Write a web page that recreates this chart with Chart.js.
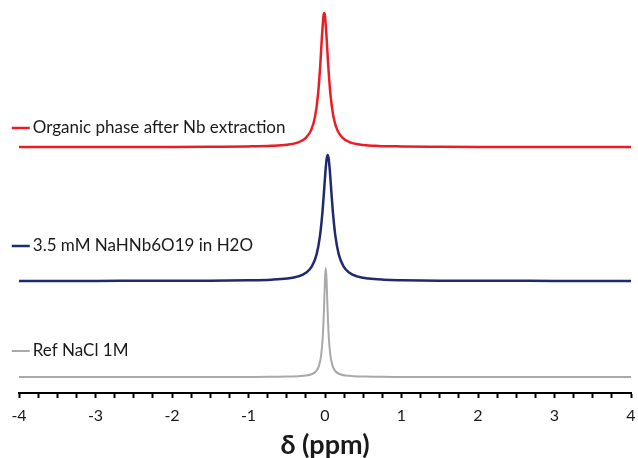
<!DOCTYPE html>
<html>
<head>
<meta charset="utf-8">
<script src="https://cdn.jsdelivr.net/npm/chart.js@4"></script>
<style>
  body { margin: 0; background: #fff; }
  #wrap { width: 638px; height: 458px; }
</style>
</head>
<body>
<div id="wrap"><canvas id="nmr" width="638" height="458"></canvas></div>
<script>
// spectra (arbitrary intensity, stacked as drawn)
const seriesNames = ['Organic phase after Nb extraction', '3.5 mM NaHNb6O19 in H2O', 'Ref NaCl 1M'];

const organicX = [-4, -3, -2, -1.5, -1, -0.7, -0.5, -0.35, -0.25, -0.18, -0.13, -0.09, -0.06, -0.04, -0.02, -0.01,
  0, 0.02, 0.04, 0.07, 0.11, 0.16, 0.23, 0.33, 0.5, 0.7, 1, 1.5, 2, 3, 4];
const organicY = [246.0, 246.0, 246.1, 246.3, 246.6, 247.2, 248.3, 250.7, 255.2, 263.1, 276.4, 299.3, 330.2, 356.5, 376.9, 380,
  376.9, 356.5, 330.2, 299.3, 276.4, 263.1, 255.2, 250.7, 248.1, 247.1, 246.6, 246.3, 246.1, 246.0, 246.0];

const nbX = [-4, -3, -2, -1.5, -1, -0.7, -0.5, -0.35, -0.25, -0.17, -0.11, -0.065, -0.035, -0.015, 0.005, 0.02, 0.035,
  0.05, 0.065, 0.085, 0.105, 0.135, 0.18, 0.24, 0.32, 0.42, 0.57, 0.77, 1, 1.5, 2, 3, 4];
const nbY = [112.0, 112.1, 112.2, 112.3, 112.7, 113.3, 114.4, 116.6, 120.2, 126.9, 138.6, 157.4, 179.3, 199.2, 220.6, 233.2, 238,
  233.2, 220.6, 199.2, 179.3, 157.4, 138.6, 126.9, 120.2, 116.6, 114.4, 113.3, 112.8, 112.3, 112.2, 112.1, 112.0];

const naclX = [-4, -3, -2, -1.5, -1, -0.7, -0.5, -0.35, -0.25, -0.17, -0.12, -0.08, -0.05, -0.03, -0.015, 0, 0.01,
  0.02, 0.035, 0.05, 0.07, 0.1, 0.14, 0.19, 0.27, 0.37, 0.52, 0.72, 1, 1.5, 2, 3, 4];
const naclY = [16.0, 16.0, 16.0, 16.0, 16.1, 16.2, 16.4, 16.8, 17.4, 19.0, 21.5, 26.9, 37.8, 55.2, 80.3, 114.1, 125,
  114.1, 80.3, 55.2, 37.8, 26.9, 21.5, 19.0, 17.4, 16.8, 16.4, 16.2, 16.1, 16.0, 16.0, 16.0, 16.0];

// where each label sits, in data units
const labelX = -3.82;
const labelY = [266, 148, 43];

const colors = ['#ec1c24', '#1f2a6e', '#a9a9a9'];
const widths = [2.5, 2.5, 2];

const FONT = 'Lato, "Open Sans", "DejaVu Sans", sans-serif';

function toPoints(xs, ys) {
  return xs.map((x, i) => ({ x: x, y: ys[i] }));
}

const seriesLabels = {
  id: 'seriesLabels',
  afterDatasetsDraw(chart) {
    const ctx = chart.ctx;
    const xs = chart.scales.x, ys = chart.scales.y;
    const tx = xs.getPixelForValue(labelX);
    ctx.save();
    ctx.font = '17px ' + FONT;
    ctx.textBaseline = 'middle';
    seriesNames.forEach((name, i) => {
      const py = ys.getPixelForValue(labelY[i]) + 1;
      ctx.strokeStyle = colors[i];
      ctx.lineWidth = widths[i];
      ctx.beginPath();
      ctx.moveTo(tx - 21, py);
      ctx.lineTo(tx - 3, py);
      ctx.stroke();
      ctx.fillStyle = '#1a1a1a';
      ctx.fillText(name, tx, py);
    });
    ctx.restore();
  }
};

const data = [toPoints(organicX, organicY), toPoints(nbX, nbY), toPoints(naclX, naclY)];

new Chart(document.getElementById('nmr'), {
  type: 'line',
  data: {
    datasets: data.map((pts, i) => ({
      label: seriesNames[i],
      data: pts,
      borderColor: colors[i],
      borderWidth: widths[i],
      pointRadius: 0,
      cubicInterpolationMode: 'monotone',
      fill: false,
    }))
  },
  options: {
    responsive: false,
    devicePixelRatio: 1,
    animation: false,
    layout: { padding: { left: 19, right: 7, top: 8, bottom: 0 } },
    plugins: {
      legend: { display: false },
      tooltip: { enabled: false }
    },
    scales: {
      x: {
        type: 'linear',
        min: -4,
        max: 4,
        // keep the axis band the same size as in the figure, and stop the
        // last tick label from pushing the axis in from the right
        afterFit: s => { s.paddingRight = 0; s.height = 65; },
        border: { color: '#000', width: 2 },
        grid: {
          drawOnChartArea: false,
          drawTicks: true,
          tickLength: 5,
          tickColor: '#000',
          tickWidth: 2
        },
        ticks: {
          stepSize: 0.25,
          autoSkip: false,
          maxRotation: 0,
          padding: 10,
          color: '#1a1a1a',
          font: { family: FONT, size: 16, lineHeight: 1 },
          callback: v => Number.isInteger(v) ? String(v) : ''
        },
        title: {
          display: true,
          text: 'δ (ppm)',
          color: '#1a1a1a',
          font: { family: FONT, size: 27, weight: 'bold', lineHeight: 1 },
          padding: { top: 0, bottom: -1 }
        }
      },
      y: {
        display: false,
        min: 0,
        max: 385
      }
    }
  },
  plugins: [seriesLabels]
});
</script>
</body>
</html>
